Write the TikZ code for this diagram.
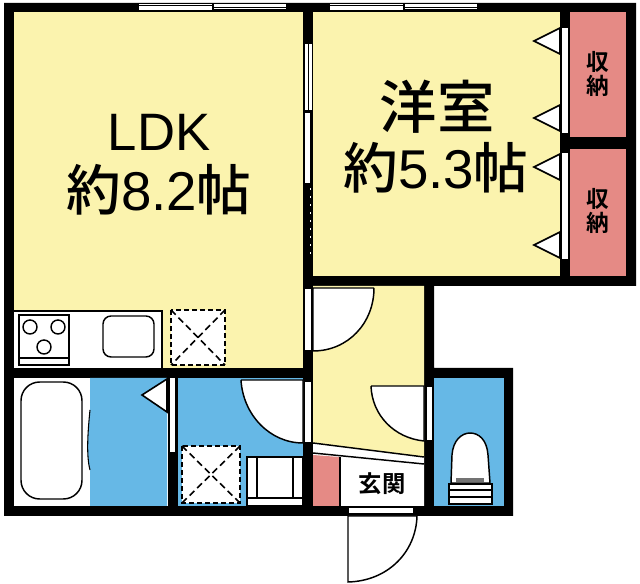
\documentclass[tikz,border=0pt]{standalone}
\usepackage{fontspec}
\setmainfont{Liberation Sans}
\newfontfamily\cjk{Noto Sans CJK JP}[BoldFont={Noto Sans CJK JP Bold}]
\newfontfamily\cjkm{Noto Sans CJK JP Medium}
\definecolor{roomy}{HTML}{FBF3AE}
\definecolor{wet}{HTML}{66B8E6}
\definecolor{store}{HTML}{E58A85}
\tikzset{
 wallfill/.style={fill=black,draw=none},
 opening/.style={fill=white,draw=none},
 fixture/.style={draw=black,line width=1.1pt,fill=white},
 doorleaf/.style={draw=black,line width=1.1pt,fill=white},
 hatch/.style={draw=black,line width=1.2pt,dash pattern=on 3.5pt off 2.5pt,fill=white},
 hatchx/.style={draw=black,line width=1.2pt,dash pattern=on 5pt off 3pt},
 burner/.style={circle,draw=black,line width=1.1pt,minimum size=10.5pt,inner sep=0pt},
 label/.style={inner sep=0pt,text=black,align=center},
 bigt/.style={label,font=\fontsize{41}{44}\selectfont},
 smallt/.style={label,font=\cjk\bfseries\fontsize{17}{18}\selectfont},
}
\begin{document}
\begin{tikzpicture}[x=0.75pt,y=-0.75pt]
\useasboundingbox (0,0) rectangle (640,584);
\fill[white] (0,0) rectangle (640,584);
% wall mass
\fill[wallfill] (4,3) -- (636,3) -- (636,286) -- (434,286) -- (434,368) -- (513,368) -- (513,516) -- (4,516) -- cycle;
% rooms
\fill[roomy] (14,12) rectangle (303,368);
\fill[roomy] (313,12) rectangle (560,276);
\fill[roomy] (313,286) -- (424,286) -- (424,457) -- (313,443) -- cycle;
\fill[store] (570,12) rectangle (626,137);
\fill[store] (570,149) rectangle (626,276);
\fill[white] (14,378) rectangle (168,506);
\fill[wet] (90,378) -- (167,378) -- (167,506) -- (90,506) -- (90,470) .. controls (86,455) and (88,430) .. (90,410) -- cycle;
\fill[wet] (178,378) rectangle (303,506);
\fill[wet] (434,378) rectangle (504,506);
\fill[white] (313,443) -- (424,457) -- (424,506) -- (313,506) -- cycle;
\fill[store] (313,455) -- (339,457) -- (339,506) -- (313,506) -- cycle;
\draw[black,line width=1pt] (340,457) -- (340,506);
% bath wavy edge
\draw[black,line width=.8pt] (90,410) .. controls (88,430) and (86,455) .. (90,470);
% kitchen
\fill[white] (14,311) rectangle (162,368);
\draw[black,line width=1.1pt] (14,311) -- (162,311) -- (162,368);
\draw[fixture,fill=none] (19,315) rectangle (69,365);
\draw[black,line width=1.1pt] (19,358) -- (69,358);
\node[burner] (bu1) at (30,327) {};
\node[burner] (bu2) at (58,327) {};
\node[burner] (bu3) at (44,347) {};
\draw[fixture,rounded corners=6pt] (103,316) rectangle (154,357);
\draw[hatch] (171,310) rectangle (225,365);
\draw[hatchx] (171,310) -- (225,365) (225,310) -- (171,365);
% bathtub
\draw[fixture,rounded corners=14pt] (21,382) rectangle (82,499);
% washbasin / laundry
\draw[hatch] (182,446) rectangle (240,503);
\draw[hatchx] (182,446) -- (240,503) (240,446) -- (182,503);
\draw[fixture] (247,457) rectangle (303,506);
\draw[black,line width=1.1pt] (257,457) -- (257,498) (293,457) -- (293,498) (247,498) -- (303,498);
% openings
\foreach \xa in {139,330}{
 \fill[opening] (\xa,6) rectangle (\xa+73,10.5);
 \fill[opening] (\xa,4) rectangle (\xa+73,5);
 \fill[opening] (\xa+75,4.5) rectangle (\xa+147,9.5);
 \draw[black,line width=.7pt] (\xa+75,7) -- (\xa+147,7);
}
\fill[opening] (305,44) rectangle (312,110);
\draw[black,line width=.8pt] (308.5,44) -- (308.5,110);
\fill[opening] (305,113) rectangle (309.5,183);
\foreach \yy in {188,196,...,252}{\fill[white] (309.5,\yy) rectangle (310.5,\yy+2);}
\fill[opening] (562,28) rectangle (568,133);
\fill[opening] (562,153) rectangle (568,259);
\fill[opening] (170,378) rectangle (175,452);
\fill[opening] (305,289) rectangle (311,350);
\fill[opening] (305,382) rectangle (311,442);
\fill[opening] (427,387) rectangle (432,440);
\fill[opening] (349,508) rectangle (413,513);
% triangles
\foreach \yy in {41,118,167,245}{
 \draw[fixture,line width=1.2pt] (534,\yy) -- (560,\yy-13) -- (560,\yy+13) -- cycle;
}
\draw[fixture,line width=1.2pt] (142,395) -- (167,379) -- (167,412) -- cycle;
% doors
\draw[doorleaf] (374,288) -- (313,288) -- (313,351) .. controls (348,351) and (374,323) .. (374,288);
\draw[doorleaf] (371,386) -- (424,386) -- (424,441) .. controls (394,438) and (372,415) .. (371,386);
\draw[doorleaf] (241,380) -- (303,380) -- (303,443) .. controls (270,443) and (243,415) .. (241,380);
\draw[doorleaf] (348,516) -- (417,516) .. controls (416,552) and (388,581) .. (348,582) -- cycle;
% band above entrance
\draw[black,line width=1.1pt] (313,443) -- (424,457);
\draw[black,line width=1.1pt] (313,453) -- (424,464);
% toilet
\draw[fixture] (451,483) -- (452,455) .. controls (453,440) and (462,433) .. (470,433) .. controls (479,433) and (487,440) .. (488,455) -- (490,483) -- cycle;
\draw[fixture] (449,484) rectangle (492,504);
\fill[black!55] (456,478) rectangle (484,482);
\draw[black,line width=1.1pt] (449,490) -- (492,490) (449,497) -- (492,497);
% labels
\node[bigt,font=\fontsize{39.5}{44}\selectfont] (ldk) at (159,132) {LDK};
\node[bigt] (ldka) at (159,190) {{\cjkm 約}8.2{\cjkm 帖}};
\node[bigt,font=\cjkm\fontsize{43}{44}\selectfont] (wa) at (437,107) {洋室};
\node[bigt] (waa) at (436,168) {{\cjkm 約}5.3{\cjkm 帖}};
\node[smallt] (sh1) at (598,74) {収\\納};
\node[smallt] (sh2) at (598,211) {収\\納};
\node[label,font=\cjk\bfseries\fontsize{17.5}{18}\selectfont] (gk) at (382,484) {玄関};
\end{tikzpicture}
\end{document}
